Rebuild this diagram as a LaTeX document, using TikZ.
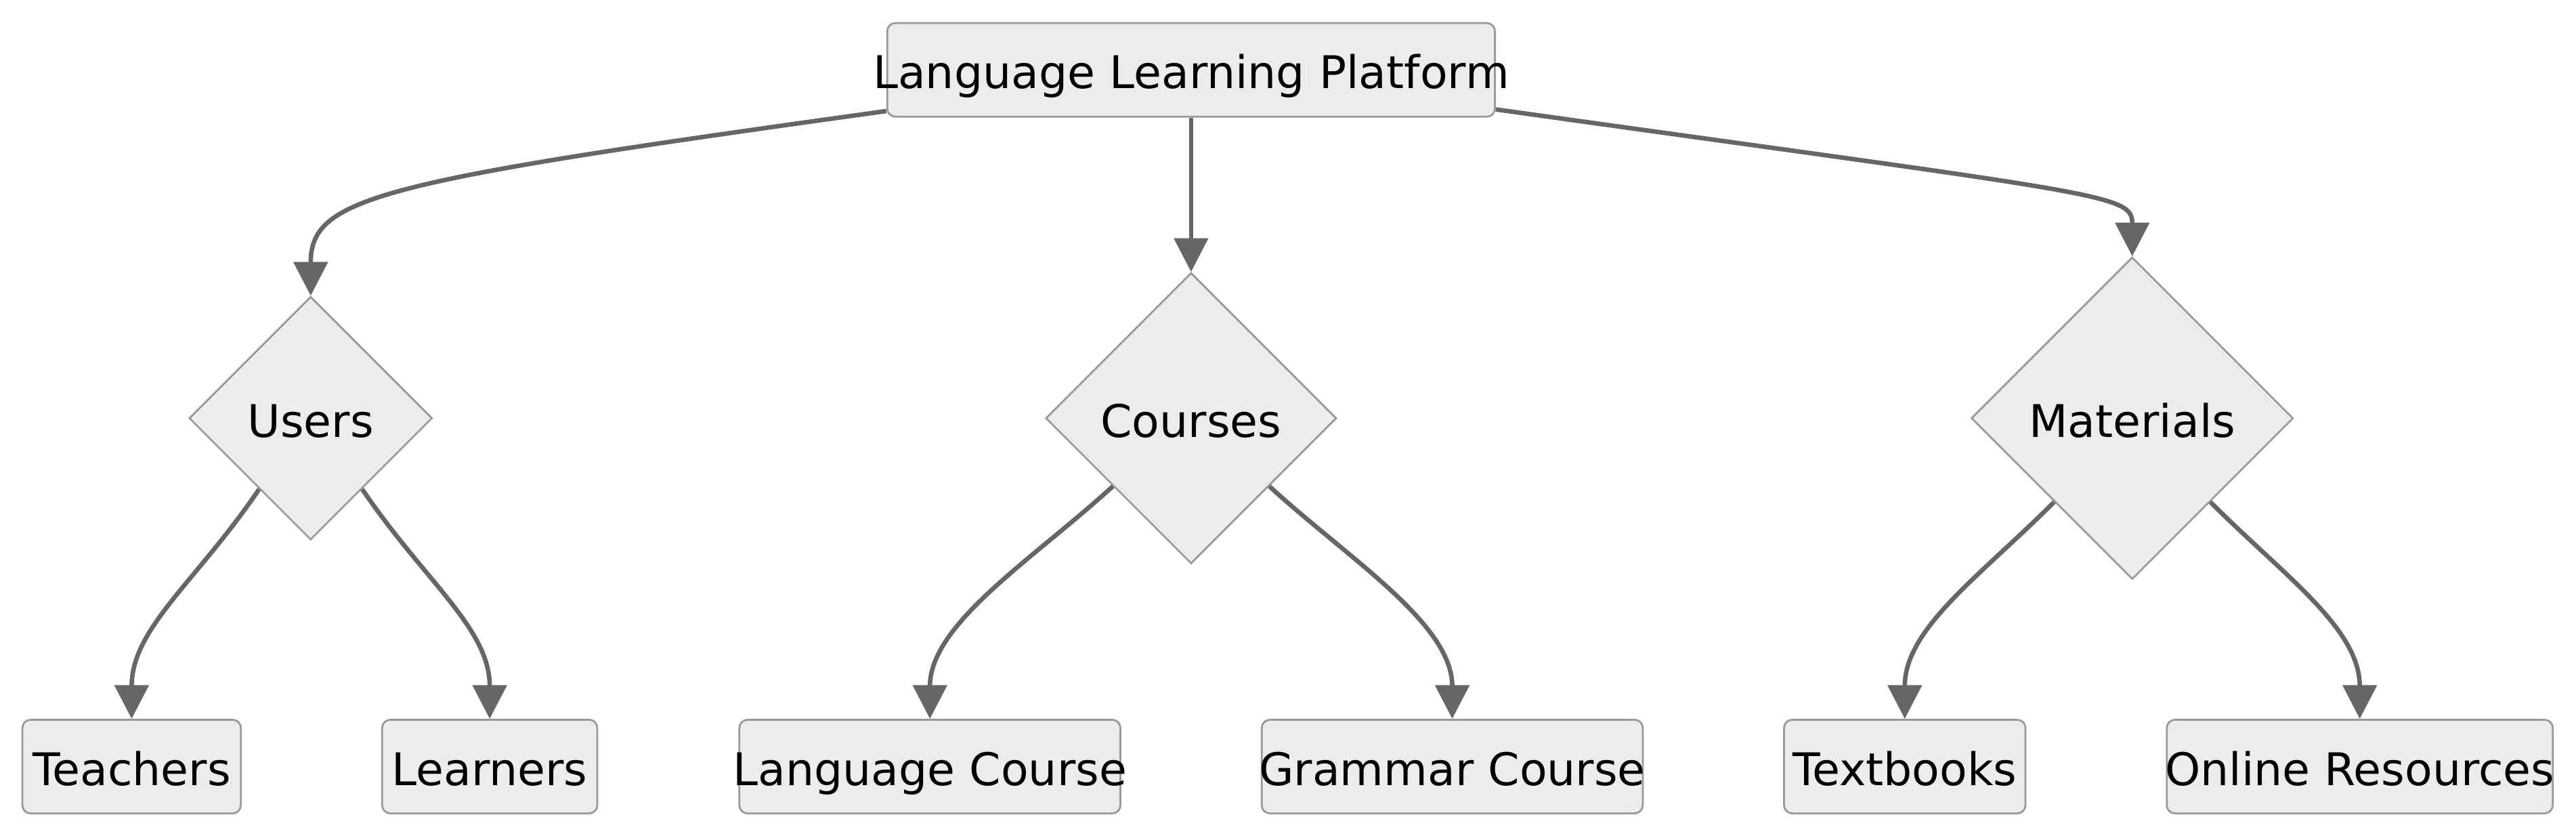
\documentclass[tikz,border=0pt]{standalone}
\usepackage{fontspec}
\setmainfont{DejaVu Sans}
\usetikzlibrary{arrows.meta,shapes.geometric}

\definecolor{nodefill}{HTML}{ECECEC}
\definecolor{nodeline}{HTML}{999999}
\definecolor{linkline}{HTML}{666666}

\begin{document}
\begin{tikzpicture}[
                    x=0.02cm,
                    y=-0.02cm,
                    -{Triangle[length=0.41cm,width=0.41cm]},
                    every edge/.style={draw=linkline, line width=1.55pt},
                    bez/.style 2 args={to path={.. controls +(#1) and +(#2) .. (\tikztotarget)}},
                    box/.style={draw=nodeline, fill=nodefill, line width=0.65pt, rounded corners=0.1cm,
                                inner sep=0pt, minimum height=1.14cm, text height=13pt, text depth=0pt,
                                font=\fontsize{15.6pt}{18pt}\selectfont},
                    choice/.style={diamond, draw=nodeline, fill=nodefill, line width=0.65pt,
                                inner sep=0pt, minimum width=#1, minimum height=#1, text height=13pt, text depth=0pt,
                                font=\fontsize{15.6pt}{18pt}\selectfont}
                ]
                \useasboundingbox (0,0) rectangle (1568,509.5);

                \node (platform)   [box, minimum width=7.4cm] at (725,42.5)                            {\makebox[0pt]{Language Learning Platform}};
                \node (courses)    [choice=3.54cm, below of=platform, node distance=4.24cm]            {Courses};
                \node (users)      [choice=2.96cm, left  of=courses,  node distance=10.72cm]           {Users};
                \node (materials)  [choice=3.92cm, right of=courses,  node distance=11.46cm]           {Materials};
                \node (teachers)   [box, minimum width=2.66cm, below of=users,     node distance=4.24cm, xshift=-2.18cm] {Teachers};
                \node (learners)   [box, minimum width=2.62cm, below of=users,     node distance=4.24cm, xshift=2.18cm]  {Learners};
                \node (langcourse) [box, minimum width=4.64cm, below of=courses,   node distance=4.24cm, xshift=-3.18cm] {\makebox[0pt]{Language Course}};
                \node (grammar)    [box, minimum width=4.64cm, below of=courses,   node distance=4.24cm, xshift=3.18cm]  {\makebox[0pt]{Grammar Course}};
                \node (textbooks)  [box, minimum width=2.94cm, below of=materials, node distance=4.24cm, xshift=-2.77cm] {Textbooks};
                \node (online)     [box, minimum width=4.70cm, below of=materials, node distance=4.24cm, xshift=2.77cm]  {\makebox[0pt]{Online Resources}};

                \path
                ([yshift=0.08cm]platform.south west) edge [bez={-310,43}{0,-60}] (users.north)
                (platform) edge (courses)
                ([yshift=0.1cm]platform.south east)  edge [bez={372,52}{0,-38}]  (materials.north)
                (users.234)     edge [bez={-38,56}{0,-55}] (teachers.north)
                (users.306)     edge [bez={38,56}{0,-55}]  (learners.north)
                (courses.221)   edge [bez={-48,44}{0,-58}] (langcourse.north)
                (courses.319)   edge [bez={48,44}{0,-58}]  (grammar.north)
                (materials.227) edge [bez={-45,45}{0,-55}] (textbooks.north)
                (materials.313) edge [bez={45,45}{0,-55}]  (online.north)
                ;
            \end{tikzpicture}
\end{document}
